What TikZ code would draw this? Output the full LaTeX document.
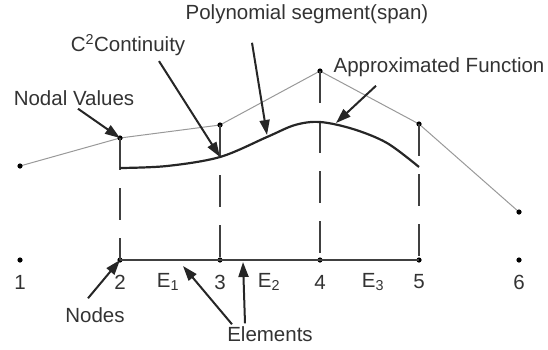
\documentclass[tikz,border=0pt]{standalone}
\usepackage{fontspec}
\setmainfont{Liberation Sans}
\usetikzlibrary{arrows.meta}
\tikzset{
  beschriftung/.style={inner sep=0pt, text=black!80, font=\fontsize{20.5}{24}\selectfont},
  zeiger/.style={-{Triangle[length=15pt,width=10pt]}, line width=2pt, black!85},
  stab/.style={line width=2pt, black!75, dash pattern=on 32pt off 18pt},
  kurve/.style={line width=2.2pt, black!85},
  achse/.style={line width=2.5pt, black!75},
}
\begin{document}
\begin{tikzpicture}[x=1pt, y=-1pt]
    \useasboundingbox (0,0) rectangle (548,349);

    % Knoten und Knotenwerte
    \foreach \i/\x/\y in {1/20/166, 2/120/138, 3/220/125, 4/320/71, 5/419/124, 6/519/212} {
      \coordinate (v\i) at (\x,\y);
      \coordinate (n\i) at (\x,260);
      \node[beschriftung] (z\i) at (\x,282) {\i};
    }

    % Polygonzug der Knotenwerte
    \draw[black!40, line width=1pt] (v1) -- (v2) -- (v3) -- (v4) -- (v5) -- (v6);
    \foreach \i in {1,...,6} {
      \fill[black] (v\i) circle (2.6pt);
      \fill[black] (n\i) circle (2.6pt);
    }

    % Elemente
    \draw[achse] (n2) -- (n5);
    \foreach \i in {2,...,5} {
      \draw[stab] (v\i) -- (n\i);
    }
    \node[beschriftung] (e1) at (168,282) {E\textsubscript{1}};
    \node[beschriftung] (e2) at (269,282) {E\textsubscript{2}};
    \node[beschriftung] (e3) at (373,282) {E\textsubscript{3}};

    % Approximierte Funktion
    \draw[kurve] plot[smooth, tension=0.55] coordinates {(120,168) (167,166) (220,157) (267,137) (295,125) (320,122) (353,129) (387,143) (419,167)};
    \coordinate (c3) at (220,157);
    \coordinate (c23) at (267,135);
    \coordinate (c45) at (336,123);
    \coordinate (a1) at (183,266);
    \coordinate (a2) at (243,262);

    % Beschriftungen
    \node[beschriftung] (poly) at (307,14) {Polynomial segment(span)};
    \node[beschriftung] (stetig) at (128,45) {C\textsuperscript{2}Continuity};
    \node[beschriftung] (werte) at (74,98) {Nodal Values};
    \node[beschriftung] (fkt) at (439,67) {Approximated Function};
    \node[beschriftung] (knoten) at (95,315) {Nodes};
    \node[beschriftung] (elem) at (270,334) {Elements};

    % Pfeile
    \draw[zeiger] ([xshift=4pt,yshift=-3pt]werte.south) -- (v2);
    \draw[zeiger] ([xshift=31pt,yshift=-5pt]stetig.south) -- (c3);
    \draw[zeiger] ([xshift=-55pt,yshift=-19pt]poly.south) -- (c23);
    \draw[zeiger] ([xshift=-63pt,yshift=-9pt]fkt.south) -- (c45);
    \draw[zeiger] ([xshift=-7pt,yshift=9pt]knoten.north) -- (n2);
    \draw[zeiger] ([xshift=-38pt,yshift=2pt]elem.north) -- (a1);
    \draw[zeiger] ([xshift=-25pt,yshift=3pt]elem.north) -- (a2);
\end{tikzpicture}
\end{document}
